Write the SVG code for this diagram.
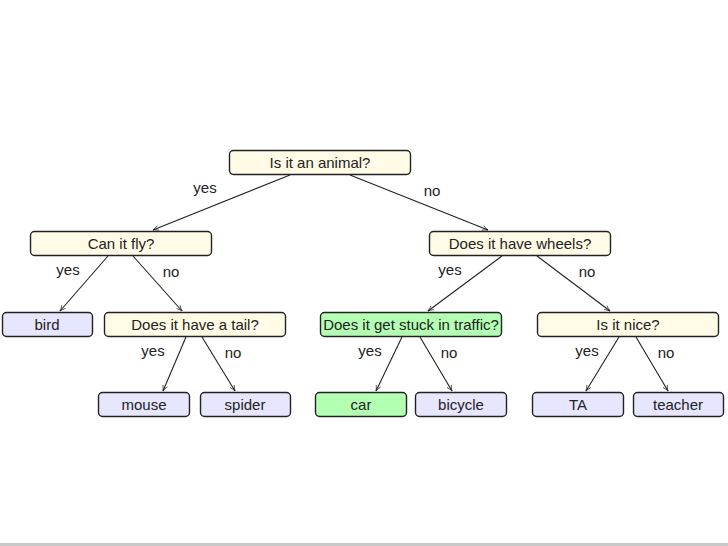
<svg xmlns="http://www.w3.org/2000/svg" width="728" height="546" viewBox="0 0 728 546">
<defs>
<marker id="arr" viewBox="0 0 10 10" refX="9" refY="5" markerWidth="7" markerHeight="7" orient="auto" markerUnits="userSpaceOnUse">
<path d="M1,1.5 Q5,4 9,5 Q5,6 1,8.5" fill="none" stroke="#222" stroke-width="1"/>
</marker>
</defs>
<style>
.n rect{stroke:#222;stroke-width:1.4}
.q{fill:#fffbe6}
.a{fill:#e6e6ff}
.g{fill:#b3ffb3}
text{font-family:"Liberation Sans",Arial,sans-serif;font-size:15px;fill:#222;text-anchor:middle}
.e line{stroke:#222;stroke-width:1.1;marker-end:url(#arr)}
</style>
<rect x="0" y="0" width="728" height="546" fill="#fff"/>
<rect x="0" y="543" width="728" height="3" fill="#c8c8c8"/>
<g class="e" id="connectors">
<line x1="290" y1="175" x2="153" y2="230"/>
<line x1="350" y1="175" x2="488" y2="230"/>
<line x1="108" y1="256" x2="60" y2="311"/>
<line x1="133" y1="256" x2="182" y2="311"/>
<line x1="502" y1="256" x2="428" y2="311"/>
<line x1="537" y1="256" x2="610" y2="311"/>
<line x1="186" y1="337" x2="163" y2="391"/>
<line x1="202" y1="337" x2="235" y2="391"/>
<line x1="402" y1="337" x2="376" y2="391"/>
<line x1="420" y1="337" x2="452" y2="391"/>
<line x1="619" y1="337" x2="586" y2="391"/>
<line x1="636" y1="337" x2="668" y2="391"/>
</g>
<g id="labels">
<text x="205" y="193">yes</text>
<text x="432" y="196">no</text>
<text x="68" y="275">yes</text>
<text x="171" y="277">no</text>
<text x="450" y="275">yes</text>
<text x="587" y="277">no</text>
<text x="153" y="356">yes</text>
<text x="233" y="358">no</text>
<text x="370" y="356">yes</text>
<text x="449" y="358">no</text>
<text x="587" y="356">yes</text>
<text x="666" y="358">no</text>
</g>
<g class="n" id="n_animal"><rect class="q" x="229.5" y="150.5" width="181" height="24" rx="4"/><text x="320" y="167.5">Is it an animal?</text></g>
<g class="n" id="n_fly"><rect class="q" x="30.5" y="231.5" width="181" height="24" rx="4"/><text x="121" y="248.5">Can it fly?</text></g>
<g class="n" id="n_wheels"><rect class="q" x="429.5" y="231.5" width="181" height="24" rx="4"/><text x="520" y="248.5">Does it have wheels?</text></g>
<g class="n" id="n_bird"><rect class="a" x="2.5" y="312.5" width="90" height="24" rx="4"/><text x="47" y="329.5">bird</text></g>
<g class="n" id="n_tail"><rect class="q" x="104.5" y="312.5" width="181" height="24" rx="4"/><text x="195" y="329.5">Does it have a tail?</text></g>
<g class="n" id="n_traffic"><rect class="g" x="320.5" y="312.5" width="181" height="24" rx="4"/><text x="411" y="329.5">Does it get stuck in traffic?</text></g>
<g class="n" id="n_nice"><rect class="q" x="537.5" y="312.5" width="181" height="24" rx="4"/><text x="628" y="329.5">Is it nice?</text></g>
<g class="n" id="n_mouse"><rect class="a" x="98.5" y="392.5" width="91" height="24" rx="4"/><text x="144" y="409.5">mouse</text></g>
<g class="n" id="n_spider"><rect class="a" x="200.5" y="392.5" width="90" height="24" rx="4"/><text x="245" y="409.5">spider</text></g>
<g class="n" id="n_car"><rect class="g" x="315.5" y="392.5" width="91" height="24" rx="4"/><text x="361" y="409.5">car</text></g>
<g class="n" id="n_bicycle"><rect class="a" x="415.5" y="392.5" width="91" height="24" rx="4"/><text x="461" y="409.5">bicycle</text></g>
<g class="n" id="n_TA"><rect class="a" x="532.5" y="392.5" width="91" height="24" rx="4"/><text x="578" y="409.5">TA</text></g>
<g class="n" id="n_teacher"><rect class="a" x="633.5" y="392.5" width="90" height="24" rx="4"/><text x="678" y="409.5">teacher</text></g>
</svg>
